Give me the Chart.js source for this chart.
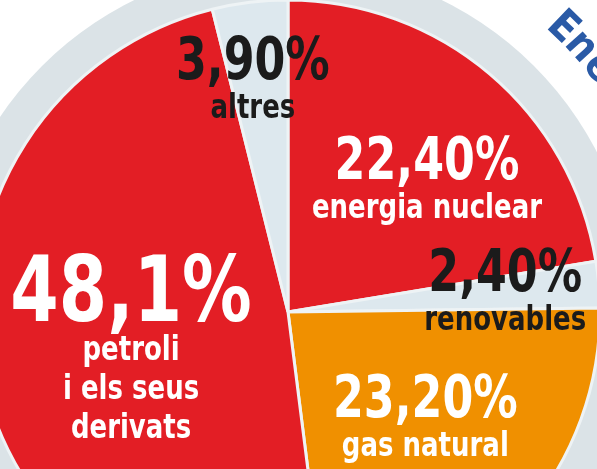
<!DOCTYPE html>
<html>
<head>
<meta charset="utf-8">
<script src="https://cdn.jsdelivr.net/npm/chart.js@4.4.1/dist/chart.umd.min.js"></script>
<style>
  html, body { margin: 0; padding: 0; background: #fff; overflow: hidden; width: 597px; height: 469px; }
  /* the pie is bigger than the window, so the canvas hangs off the top/left */
  #wrap { position: absolute; left: -132px; top: -108px; width: 840px; height: 840px; }
</style>
</head>
<body>
<div id="wrap"><canvas id="chart" width="840" height="840"></canvas></div>
<script>
const categories = ["energia nuclear", "renovables", "gas natural", "petroli\ni els seus\nderivats", "altres"];
const values = [22.4, 2.4, 23.2, 48.1, 3.9];
const pctLabels = ["22,40%", "2,40%", "23,20%", "48,1%", "3,90%"];
const title = "Energia";

const RED = "#e31e25";
const ORANGE = "#f09000";
const PALE = "#dde8ee";
const RING = "#dbe3e7";
const sliceColors = [RED, PALE, ORANGE, RED, PALE];
const textColors = ["#ffffff", "#1b1b1b", "#ffffff", "#ffffff", "#1b1b1b"];

// label spot per slice: share of the radius, nudge off the mid angle (deg), size of the % figure
const labelSpots = [
  { r: 0.62, turn: 5.6, size: 58 },
  { r: 0.70, turn: -0.9, size: 58 },
  { r: 0.55, turn: -4.2, size: 58 },
  { r: 0.515, turn: -1.8, size: 91 },
  { r: 0.76, turn: -1.5, size: 58 }
];

const FACE = '"DejaVu Sans Condensed", "DejaVu Sans", sans-serif';
const SQUEEZE = 0.85;   // the print font is narrower than DejaVu
const SUB_SIZE = 34;
const LINE = 39;

function drawText(ctx, text, x, y, size, color) {
  ctx.save();
  ctx.translate(x, y);
  ctx.scale(SQUEEZE, 1);
  ctx.font = "bold " + size + "px " + FACE;
  ctx.fillStyle = color;
  ctx.textAlign = "center";
  ctx.textBaseline = "alphabetic";
  ctx.fillText(text, 0, 0);
  ctx.restore();
}

// pale ring behind the pie
const ringPlugin = {
  id: "ring",
  beforeDatasetsDraw(chart) {
    const arc = chart.getDatasetMeta(0).data[0];
    if (!arc) return;
    const ctx = chart.ctx;
    ctx.save();
    ctx.beginPath();
    ctx.arc(arc.x, arc.y, arc.outerRadius * 1.115, 0, Math.PI * 2);
    ctx.fillStyle = RING;
    ctx.fill();
    ctx.restore();
  }
};

const labelPlugin = {
  id: "sliceLabels",
  afterDatasetsDraw(chart) {
    const ctx = chart.ctx;
    const arcs = chart.getDatasetMeta(0).data;
    arcs.forEach((arc, i) => {
      const spot = labelSpots[i];
      const mid = (arc.startAngle + arc.endAngle) / 2 + spot.turn * Math.PI / 180;
      const ax = arc.x + Math.cos(mid) * arc.outerRadius * spot.r;
      const ay = arc.y + Math.sin(mid) * arc.outerRadius * spot.r;
      const lines = categories[i].split("\n");
      const cap = spot.size * 0.73;
      const h = cap + LINE * lines.length;
      let base = ay - h / 2 + cap;
      drawText(ctx, pctLabels[i], ax, base, spot.size, textColors[i]);
      lines.forEach(line => {
        base += LINE;
        drawText(ctx, line, ax, base, SUB_SIZE, textColors[i]);
      });
    });

    // curved heading outside the ring, mostly cut off by the window
    const arc = arcs[0];
    const rb = arc.outerRadius * 1.23;
    ctx.save();
    ctx.font = "bold 42px " + FACE;
    ctx.fillStyle = "#2a5aa6";
    ctx.textAlign = "center";
    ctx.textBaseline = "alphabetic";
    let ang = 44 * Math.PI / 180;
    for (const ch of title) {
      const w = ctx.measureText(ch).width;
      ctx.save();
      ctx.translate(arc.x, arc.y);
      ctx.rotate(ang);
      ctx.fillText(ch, 0, -rb);
      ctx.restore();
      ang += w / rb;
    }
    ctx.restore();
  }
};

new Chart(document.getElementById("chart"), {
  type: "pie",
  data: {
    labels: categories,
    datasets: [{
      data: values,
      backgroundColor: sliceColors,
      borderColor: "#eef3f5",
      borderWidth: 3
    }]
  },
  options: {
    responsive: false,
    animation: false,
    devicePixelRatio: 1,
    radius: 312,
    layout: { padding: 0 },
    plugins: {
      legend: { display: false },
      tooltip: { enabled: false },
      title: { display: false }
    }
  },
  plugins: [ringPlugin, labelPlugin]
});
</script>
</body>
</html>
